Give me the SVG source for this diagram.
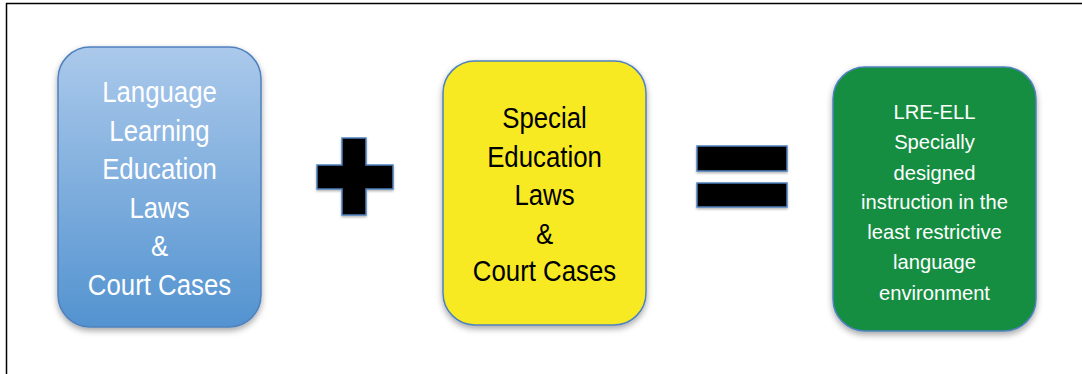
<svg xmlns="http://www.w3.org/2000/svg" width="1082" height="374" viewBox="0 0 1082 374">
<defs>
<linearGradient id="blueGrad" x1="0" y1="0" x2="0" y2="1">
<stop offset="0" stop-color="#abc9eb"/>
<stop offset="1" stop-color="#5393d0"/>
</linearGradient>
<filter id="shadow" x="-10%" y="-10%" width="120%" height="125%">
<feDropShadow dx="0" dy="3" stdDeviation="3" flood-color="#000" flood-opacity="0.35"/>
</filter>
<filter id="shadowSm" x="-20%" y="-20%" width="140%" height="150%">
<feDropShadow dx="0" dy="1.5" stdDeviation="1.2" flood-color="#000" flood-opacity="0.3"/>
</filter>
</defs>
<style>
.box { stroke: #4f81bd; stroke-width: 1.5; filter: url(#shadow); }
.sym { fill: #000; stroke: #4f81bd; stroke-width: 1.5; filter: url(#shadowSm); }
.big { font-family: "Liberation Sans", Arial, sans-serif; font-size: 30px; text-anchor: middle; }
.small { font-family: "Liberation Sans", Arial, sans-serif; font-size: 21px; text-anchor: middle; }
.w { fill: #ffffff; }
.k { fill: #000000; }
</style>
<rect width="1082" height="374" fill="#ffffff"/>
<g id="frame">
<line x1="6" y1="3.5" x2="1082" y2="3.5" stroke="#000" stroke-width="1.5"/>
<line x1="6.5" y1="3" x2="6.5" y2="374" stroke="#000" stroke-width="1.5"/>
</g>
<g id="node-language">
<rect class="box" x="58" y="47" width="203" height="280" rx="32" ry="32" fill="url(#blueGrad)"/>
<g transform="translate(159.5 0) scale(0.86 1)">
<text class="big w" x="0" y="102">Language</text>
<text class="big w" x="0" y="141">Learning</text>
<text class="big w" x="0" y="179">Education</text>
<text class="big w" x="0" y="218">Laws</text>
<text class="big w" x="0" y="256">&amp;</text>
<text class="big w" x="0" y="295">Court Cases</text>
</g>
</g>
<g id="node-plus">
<path class="sym" d="M342 138 H366 V165 H393 V189 H366 V215 H342 V189 H317 V165 H342 Z"/>
</g>
<g id="node-special">
<rect class="box" x="443" y="61" width="203" height="264" rx="32" ry="32" fill="#f7ea22"/>
<g transform="translate(544.5 0) scale(0.86 1)">
<text class="big k" x="0" y="128">Special</text>
<text class="big k" x="0" y="167">Education</text>
<text class="big k" x="0" y="205">Laws</text>
<text class="big k" x="0" y="244">&amp;</text>
<text class="big k" x="0" y="281">Court Cases</text>
</g>
</g>
<g id="node-equals">
<rect class="sym" x="697" y="146" width="90" height="25"/>
<rect class="sym" x="697" y="183" width="90" height="24"/>
</g>
<g id="node-lre">
<rect class="box" x="833" y="67" width="203" height="264" rx="32" ry="32" fill="#138e43"/>
<g transform="translate(934.5 0) scale(0.96 1)">
<text class="small w" x="0" y="119">LRE-ELL</text>
<text class="small w" x="0" y="149">Specially</text>
<text class="small w" x="0" y="180">designed</text>
<text class="small w" x="0" y="209">instruction in the</text>
<text class="small w" x="0" y="239">least restrictive</text>
<text class="small w" x="0" y="269">language</text>
<text class="small w" x="0" y="300">environment</text>
</g>
</g>
<g id="connectors"></g>
</svg>
